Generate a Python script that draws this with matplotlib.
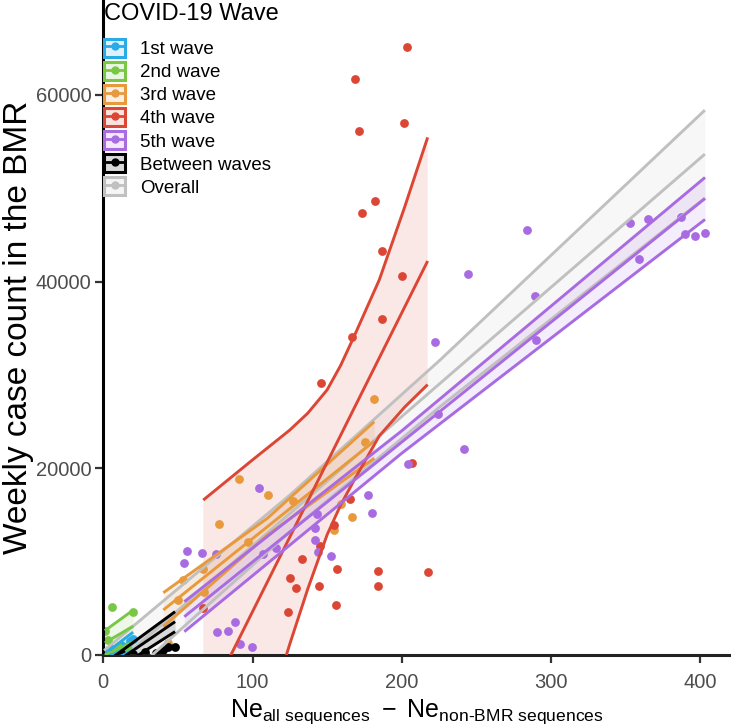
import matplotlib
matplotlib.use('Agg')
import matplotlib.pyplot as plt
from matplotlib.patches import Patch
from matplotlib.lines import Line2D
from matplotlib.legend_handler import HandlerTuple

plt.rcParams['font.family'] = ['Liberation Sans', 'DejaVu Sans']
plt.rcParams['mathtext.fontset'] = 'custom'
plt.rcParams['mathtext.rm'] = 'Liberation Sans'
plt.rcParams['mathtext.it'] = 'Liberation Sans:italic'
plt.rcParams['mathtext.bf'] = 'Liberation Sans:bold'

# ---- points (Ne difference vs weekly case count) ----
w1_x = [1, 3, 6, 9, 12, 15, 18, 20]
w1_y = [300, 150, 600, 400, 1100, 900, 1500, 1700]

w2_x = [1.0, 2.9, 6.0, 10.0, 16.8, 20.1]
w2_y = [2600, 1600, 5110, 900, 610, 4600]

w3_x = [43.4, 49.9, 53.4, 66.8, 67.5, 77.8, 91.2, 97.2, 110.6, 126.9, 154.8, 159.1, 166.5, 175.4, 181.6]
w3_y = [1280, 5840, 8080, 9200, 6710, 14000, 18850, 12130, 17100, 16520, 13350, 16130, 14810, 22850, 27380]

w4_x = [203.8, 168.5, 171.2, 201.3, 182.1, 173.2, 186.8, 200.0, 186.8, 166.9, 145.9, 165.3, 154.8,
        145.2, 133.2, 156.8, 183.9, 183.9, 124.9, 129.2, 144.6, 156.2, 123.6, 66.6, 217.4, 206.7]
w4_y = [65090, 61690, 56150, 56940, 48660, 47310, 43270, 40590, 35950, 34030, 29130, 16710, 13930,
        11680, 10250, 9180, 9000, 7420, 8210, 7210, 7390, 5320, 4640, 5000, 8860, 20600]

w5_x = [104.4, 177.4, 180.3, 143.0, 142.1, 141.7, 144.1, 152.6, 115.5, 107.2, 55.9, 66.2, 75.3, 54.3,
        88.5, 83.4, 76.4, 91.6, 99.5, 204.4, 224.5, 242.0, 284.2, 244.6, 289.3, 352.8, 365.1, 387.4,
        389.9, 396.8, 403.3, 358.8, 289.8, 222.5]
w5_y = [17850, 17170, 15180, 15070, 13570, 12320, 11070, 10600, 11490, 10780, 11170, 10960, 10780, 9820,
        3570, 2570, 2430, 1150, 860, 20460, 25780, 22060, 45520, 40770, 38480, 46300, 46730, 46880,
        45060, 44870, 45230, 42380, 33740, 33490]

bw_x = [5, 12, 20, 28, 35, 40.2, 43.6, 48.1]
bw_y = [100, 200, 150, 300, 200, 500, 880, 860]

# ---- fitted lines with confidence band (read at a few x positions) ----
w1_lx = [2, 20]
w1_up = [250, 2450]
w1_fit = [-350, 1500]
w1_lo = [-950, 550]

w2_lx = [1, 20.1]
w2_up = [2600, 4820]
w2_fit = [1300, 3100]
w2_lo = [0, 1400]

w3_lx = [40.2, 110, 181.6]
w3_up = [6670, 14650, 24990]
w3_fit = [4820, 13750, 22920]
w3_lo = [3030, 12850, 21070]

w4_lx = [67, 100, 125, 137, 150, 159, 168, 185, 202, 217.4]
w4_up = [16600, 20900, 24100, 25900, 28400, 31000, 34100, 40200, 48000, 55450]
w4_fit = [-5920, 4640, 12640, 16480, 20640, 23520, 26400, 31840, 37280, 42210]
w4_lo = [-28440, -11620, 1180, 7060, 12880, 16040, 18700, 23480, 26560, 28970]

w5_lx = [54.3, 200, 403.3]
w5_up = [5710, 24010, 51160]
w5_fit = [4100, 22810, 48910]
w5_lo = [2500, 21610, 46660]

bw_lx = [0, 48.1]
bw_up = [-1000, 4640]
bw_fit = [-1700, 3570]
bw_lo = [-2400, 2500]

all_lx = [0.5, 125, 225.7, 403.2]
all_up = [480, 17125, 31600, 58370]
all_fit = [-2070, 15160, 29100, 53660]
all_lo = [-4620, 13195, 26600, 48950]

labels = ['1st wave', '2nd wave', '3rd wave', '4th wave', '5th wave', 'Between waves', 'Overall']
colors = ['#2aaae6', '#78c846', '#e8993c', '#dc4634', '#a86be2', '#000000', '#c0c0c0']

points = [(w1_x, w1_y), (w2_x, w2_y), (w3_x, w3_y), (w4_x, w4_y), (w5_x, w5_y), (bw_x, bw_y)]
fits = [(w1_lx, w1_up, w1_fit, w1_lo), (w2_lx, w2_up, w2_fit, w2_lo), (w3_lx, w3_up, w3_fit, w3_lo),
        (w4_lx, w4_up, w4_fit, w4_lo), (w5_lx, w5_up, w5_fit, w5_lo), (bw_lx, bw_up, bw_fit, bw_lo),
        (all_lx, all_up, all_fit, all_lo)]

fig = plt.figure(figsize=(7.31, 7.26), dpi=100)
ax = fig.add_axes([103.3 / 731, 71 / 726, 1 - 103.3 / 731, 1 - 71 / 726])

# points first, smooths on top
for (px, py), c in zip(points, colors):
    ax.scatter(px, py, s=40, color=c, linewidths=0, zorder=2)

# overall first, then the waves
order = [6, 0, 1, 2, 3, 4, 5]
for i in order:
    lx, up, fit, lo = fits[i]
    c = colors[i]
    ax.fill_between(lx, lo, up, color=c, alpha=0.12, lw=0, zorder=1)
    for yy in (up, fit, lo):
        ax.plot(lx, yy, color=c, lw=2.1, solid_capstyle='butt', zorder=3)

ax.set_xlim(0, 420.7)
ax.set_ylim(0, 70170)
ax.set_xticks([0, 100, 200, 300, 400])
ax.set_yticks([0, 20000, 40000, 60000])
ax.tick_params(axis='both', labelsize=14.5, labelcolor='#4d4d4d', color='#333333',
               length=6, width=1.6)
ax.tick_params(axis='x', pad=7)
ax.tick_params(axis='y', pad=2.5)
for s in ['top', 'right']:
    ax.spines[s].set_visible(False)
for s in ['left', 'bottom']:
    ax.spines[s].set_linewidth(2.2)
ax.spines['left'].set_color('black')
ax.spines['bottom'].set_color('#222222')

ax.set_ylabel('Weekly case count in the BMR', fontsize=24)
ax.yaxis.set_label_coords((34.5 - 103.3) / 627.7, 0.5)
ax.set_xlabel(r'$\mathrm{Ne_{all\ sequences}\ -\ Ne_{non\text{-}BMR\ sequences}}$', fontsize=18, labelpad=4)

handles = []
for c in colors:
    patch = Patch(facecolor=(*matplotlib.colors.to_rgb(c), 0.15), edgecolor=c, linewidth=2.2)
    line = Line2D([], [], color=c, lw=2.0, marker='o', markersize=5)
    handles.append((patch, line))

leg = fig.legend(handles, labels, loc='upper left', bbox_to_anchor=(101 / 731, 1.0),
                 frameon=False, fontsize=13.5, title='COVID-19 Wave', title_fontsize=17,
                 handler_map={tuple: HandlerTuple(ndivide=1, pad=0)},
                 handlelength=1.15, handleheight=1.1, labelspacing=0.2, handletextpad=0.8,
                 borderpad=0.15, borderaxespad=0, alignment='left')
leg._legend_box.sep = 10

fig.savefig('out.png', dpi=100)
